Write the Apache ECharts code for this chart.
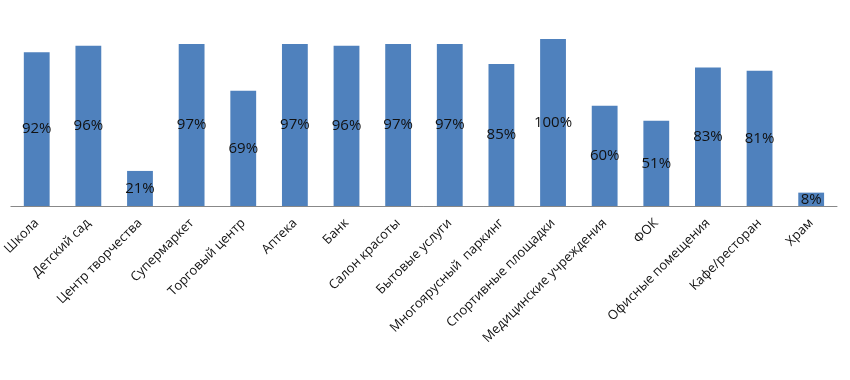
<!DOCTYPE html>
<html><head><meta charset="utf-8">
<script src="https://cdn.jsdelivr.net/npm/echarts@6/dist/echarts.min.js"></script>
<style>html,body{margin:0;padding:0;background:#fff}#c{width:850px;height:380px}</style>
</head><body><div id="c"></div>
<script>
const categories = ["Школа","Детский сад","Центр творчества","Супермаркет","Торговый центр","Аптека","Банк","Салон красоты","Бытовые услуги","Многоярусный  паркинг","Спортивные площадки","Медицинские учреждения","ФОК","Офисные помещения","Кафе/ресторан","Храм"];
const values = [92,96,21,97,69,97,96,97,97,85,100,60,51,83,81,8];
const chart = echarts.init(document.getElementById('c'));
chart.setOption({
  animation:false,
  grid:{left:7,right:13,top:39,bottom:174,containLabel:false},
  xAxis:{type:'category',data:categories,
    axisLine:{lineStyle:{color:'#888',width:1}},
    axisTick:{show:false},
    axisLabel:{rotate:45,interval:0,fontSize:13,color:'#111',fontFamily:'Open Sans',margin:15}},
  yAxis:{type:'value',min:0,max:100,show:false,splitLine:{show:false}},
  series:[{type:'bar',data:values,barWidth:'50%',itemStyle:{color:'#4f81bd'},
    label:{show:true,position:'inside',formatter:'{c}%',fontSize:15,color:'#111',fontFamily:'Open Sans'}}]
});
</script></body></html>
